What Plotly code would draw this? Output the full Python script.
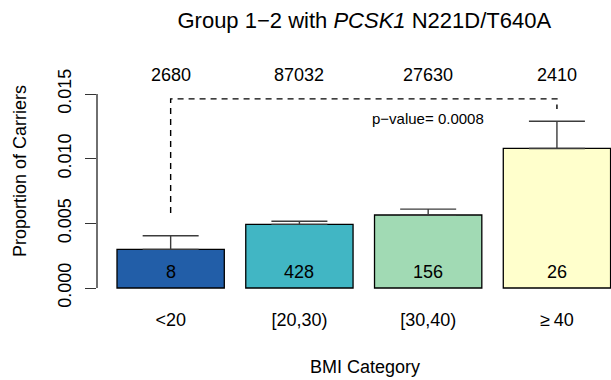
import plotly.graph_objects as go

# BMI groups, sample sizes and number of carriers per group
categories = ["<20", "[20,30)", "[30,40)", "\u2265\u200940"]
group_sizes = [2680, 87032, 27630, 2410]
carriers = [8, 428, 156, 26]
std_errors = [0.00105, 0.00024, 0.00045, 0.00210]
p_value_text = "p\u2212value= 0.0008"
y_tickvals = [0.0, 0.005, 0.010, 0.015]

proportions = [c / n for c, n in zip(carriers, group_sizes)]

# barplot layout: unit-width bars separated by 0.2
bar_centers = [0.7 + 1.2 * i for i in range(len(categories))]
bar_colors = ["#225EA8", "#41B6C4", "#A1DAB4", "#FFFFCC"]

FONT = "Liberation Sans, Arial, Helvetica, sans-serif"

fig = go.Figure()

fig.add_trace(go.Bar(
    x=bar_centers,
    y=proportions,
    width=1.0,
    marker=dict(color=bar_colors, line=dict(color="black", width=1.3)),
    error_y=dict(type="data", symmetric=False, array=std_errors,
                 arrayminus=[0] * len(std_errors),
                 color="#3c3c3c", thickness=1.4, width=28),
    showlegend=False,
    hoverinfo="skip",
))

# dashed comparison bracket between the lowest and highest BMI group
bracket_top = 0.01462
bracket_left_bottom = 0.0058
bracket_right_bottom = 0.01384
fig.add_trace(go.Scatter(
    x=[bar_centers[0], bar_centers[0], bar_centers[-1], bar_centers[-1]],
    y=[bracket_left_bottom, bracket_top, bracket_top, bracket_right_bottom],
    mode="lines",
    line=dict(color="black", width=1.4, dash="6px,5px"),
    showlegend=False,
    hoverinfo="skip",
))

# y axis line spanning only the tick range
fig.add_shape(type="line", xref="paper", yref="y",
              x0=0, x1=0, y0=y_tickvals[0], y1=y_tickvals[-1],
              line=dict(color="#333333", width=1.4))

annotations = []
for xc, n in zip(bar_centers, group_sizes):
    annotations.append(dict(x=xc, y=0.01647, xref="x", yref="y", text=str(n),
                            showarrow=False, font=dict(size=18, color="black")))
for xc, c in zip(bar_centers, carriers):
    annotations.append(dict(x=xc, y=0.00124, xref="x", yref="y", text=str(c),
                            showarrow=False, font=dict(size=18, color="black")))
annotations.append(dict(x=bar_centers[2], y=0.0131, xref="x", yref="y",
                        text=p_value_text, showarrow=False,
                        font=dict(size=15, color="black")))
# x axis title, centred on the full bar region
annotations.append(dict(x=0.522, y=-0.2778, xref="paper", yref="paper",
                        text="BMI Category", showarrow=False,
                        xanchor="center", yanchor="middle",
                        font=dict(size=18, color="black")))

fig.update_layout(
    width=611, height=380,
    margin=dict(l=97, r=0, t=45, b=83),
    paper_bgcolor="white", plot_bgcolor="white",
    font=dict(family=FONT, color="black", size=18),
    title=dict(text="Group 1\u22122 with <i>PCSK1</i> N221D/T640A",
               x=0.52, xref="paper", xanchor="center",
               y=1 - 20 / 380, yref="container", yanchor="middle",
               font=dict(size=22, color="black", family=FONT)),
    xaxis=dict(range=[0.0136, 4.8039], tickvals=bar_centers, ticktext=categories,
               showline=False, showgrid=False, zeroline=False, ticks="",
               ticklabelstandoff=10, tickfont=dict(size=18)),
    yaxis=dict(range=[-0.000696, 0.018789], tickvals=y_tickvals,
               tickformat=".3f", tickangle=-90, ticks="outside", ticklen=11,
               tickwidth=1.4, tickcolor="#333333",
               showline=False, showgrid=False, zeroline=False,
               ticklabelstandoff=7,
               tickfont=dict(size=18),
               title=dict(text="Proportion of Carriers", standoff=23,
                          font=dict(size=18))),
    annotations=annotations,
)

fig.write_html("out.html")
